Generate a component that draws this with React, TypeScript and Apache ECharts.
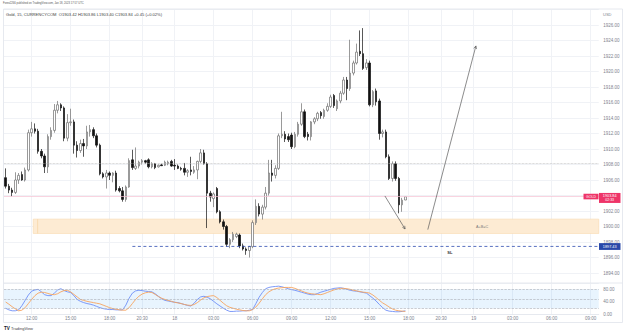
import React, { useEffect, useRef } from 'react';
import * as echarts from 'echarts';

// ---- OHLC of Gold 15m candles (Jan 17 10:00 UTC -> Jan 18 17:45 UTC) ----
const opens = [
  1906.3, 1905.2, 1904.7, 1904.4, 1906.0, 1906.7, 1906.0, 1907.3, 1912.1, 1912.6,
  1912.3, 1909.7, 1909.1, 1907.7, 1911.6, 1912.4, 1915.0, 1915.7, 1915.3, 1911.4,
  1913.4, 1913.5, 1910.5, 1909.8, 1910.7, 1910.4, 1912.2, 1912.5, 1911.7, 1910.5,
  1906.8, 1906.4, 1906.9, 1906.6, 1906.9, 1904.9, 1904.6, 1903.5, 1905.1, 1908.6,
  1907.5, 1907.8, 1908.3, 1908.5, 1908.6, 1907.7, 1908.1, 1907.7, 1907.95, 1907.9,
  1908.1, 1908.4, 1907.9, 1907.8, 1907.5, 1907.5, 1907.0, 1907.3, 1907.0, 1907.3,
  1908.4, 1909.5, 1908.1, 1904.3, 1903.6, 1904.9, 1901.9, 1900.6, 1900.0, 1897.7,
  1898.3, 1898.7, 1898.9, 1897.5, 1897.1, 1896.9, 1897.4, 1900.5, 1902.6, 1901.6,
  1902.5, 1904.3, 1906.9, 1906.6, 1907.5, 1911.7, 1911.9, 1911.6, 1911.8, 1910.3,
  1911.9, 1913.2, 1914.8, 1911.9, 1911.6, 1913.5, 1913.9, 1914.7, 1914.2, 1915.0,
  1915.5, 1916.9, 1915.2, 1916.2, 1917.2, 1918.9, 1917.8, 1919.8, 1921.1, 1922.6,
  1922.3, 1920.5, 1921.1, 1915.7, 1917.5, 1916.2, 1912.0, 1912.2, 1909.0, 1906.2,
  1908.1, 1906.2, 1902.8, 1903.42,
];
const closes = [
  1905.2, 1904.7, 1904.4, 1906.0, 1906.6, 1906.0, 1907.3, 1912.1, 1912.6, 1912.3,
  1909.7, 1909.1, 1907.7, 1911.6, 1912.4, 1915.0, 1915.7, 1915.3, 1911.4, 1913.4,
  1913.5, 1910.5, 1909.8, 1910.7, 1910.4, 1912.2, 1912.5, 1911.7, 1910.5, 1906.8,
  1906.4, 1906.9, 1906.6, 1906.9, 1904.7, 1904.6, 1903.5, 1905.1, 1908.5, 1907.6,
  1907.8, 1908.3, 1908.5, 1908.3, 1907.7, 1908.1, 1907.6, 1907.9, 1907.85, 1908.3,
  1908.3, 1907.8, 1907.8, 1907.5, 1907.4, 1907.0, 1907.2, 1907.1, 1907.3, 1908.4,
  1909.5, 1908.1, 1904.3, 1903.8, 1904.2, 1901.9, 1900.6, 1900.0, 1897.7, 1898.3,
  1899.0, 1899.0, 1897.5, 1897.1, 1896.9, 1897.4, 1900.5, 1902.6, 1901.6, 1902.5,
  1904.3, 1906.9, 1906.6, 1907.5, 1911.7, 1911.9, 1911.3, 1911.2, 1910.3, 1911.9,
  1913.2, 1914.8, 1911.6, 1911.6, 1913.5, 1913.9, 1914.6, 1914.3, 1915.0, 1915.5,
  1916.7, 1915.6, 1916.2, 1917.2, 1918.9, 1917.8, 1919.8, 1921.1, 1922.5, 1922.3,
  1920.4, 1921.1, 1915.7, 1917.4, 1916.1, 1912.0, 1912.2, 1909.0, 1906.2, 1908.1,
  1906.2, 1902.8, 1903.4, 1903.84,
];
const lows = [
  1904.9, 1904.3, 1903.9, 1904.2, 1905.5, 1905.9, 1905.8, 1907.1, 1911.6, 1912.0,
  1909.4, 1908.8, 1906.9, 1906.9, 1911.2, 1912.1, 1914.6, 1914.9, 1911.0, 1911.0,
  1913.0, 1909.4, 1908.9, 1909.5, 1909.0, 1910.0, 1911.6, 1911.4, 1910.2, 1906.6,
  1906.2, 1904.9, 1906.0, 1905.7, 1904.5, 1904.4, 1903.2, 1903.2, 1905.0, 1907.3,
  1907.3, 1907.5, 1908.0, 1908.1, 1907.5, 1907.5, 1907.4, 1907.6, 1907.8, 1907.8,
  1907.9, 1907.7, 1907.3, 1907.4, 1907.2, 1906.6, 1906.4, 1906.6, 1906.8, 1906.1,
  1908.2, 1908.0, 1899.8, 1903.2, 1902.5, 1901.7, 1900.4, 1899.6, 1897.4, 1897.2,
  1898.0, 1898.5, 1897.2, 1896.9, 1896.35, 1896.0, 1897.2, 1900.2, 1901.3, 1900.9,
  1902.2, 1904.0, 1905.8, 1906.2, 1907.3, 1911.4, 1910.9, 1910.9, 1910.0, 1910.1,
  1911.6, 1913.0, 1911.4, 1911.1, 1911.1, 1913.2, 1913.6, 1913.9, 1913.9, 1914.8,
  1915.3, 1915.3, 1914.9, 1915.9, 1917.0, 1916.3, 1917.5, 1919.5, 1920.9, 1922.0,
  1920.2, 1920.2, 1915.5, 1915.4, 1915.6, 1911.2, 1911.5, 1908.8, 1906.0, 1905.8,
  1905.9, 1901.7, 1901.9, 1903.4,
];
const highs = [
  1907.5, 1905.5, 1905.0, 1907.0, 1906.9, 1907.1, 1907.6, 1912.5, 1913.5, 1913.3,
  1912.6, 1910.0, 1909.4, 1911.9, 1912.8, 1915.8, 1916.2, 1915.9, 1915.5, 1914.5,
  1915.2, 1913.8, 1911.0, 1911.2, 1911.3, 1913.0, 1913.1, 1912.8, 1912.0, 1910.7,
  1907.0, 1907.3, 1907.1, 1907.0, 1907.2, 1905.2, 1905.1, 1905.3, 1908.8, 1909.9,
  1910.2, 1908.5, 1908.7, 1908.6, 1908.8, 1908.3, 1908.2, 1908.0, 1908.1, 1908.5,
  1908.5, 1908.6, 1908.7, 1908.0, 1907.7, 1908.2, 1907.4, 1909.0, 1907.8, 1908.5,
  1910.0, 1909.9, 1908.3, 1904.6, 1904.4, 1905.1, 1902.1, 1900.9, 1900.2, 1898.5,
  1899.3, 1899.2, 1899.1, 1897.8, 1897.3, 1897.5, 1900.8, 1903.5, 1903.0, 1902.8,
  1905.1, 1908.6, 1908.6, 1907.9, 1912.0, 1914.8, 1912.3, 1912.0, 1912.1, 1912.2,
  1913.5, 1915.9, 1915.1, 1912.2, 1913.6, 1914.1, 1914.8, 1914.9, 1915.2, 1915.9,
  1917.0, 1917.1, 1916.4, 1917.5, 1919.3, 1919.3, 1924.1, 1921.4, 1923.6, 1925.3,
  1925.6, 1921.6, 1921.4, 1917.6, 1917.8, 1916.5, 1912.5, 1912.5, 1909.3, 1908.4,
  1908.4, 1906.4, 1903.7, 1903.86,
];

// ---- Stochastic oscillator ----
const stochK = [
  20, 15, 12, 12, 15, 28, 45, 62, 74, 78,
  80, 72, 63, 60, 60, 68, 78, 82, 76, 72,
  70, 60, 48, 42, 38, 35, 33, 30, 26, 22,
  19, 17, 16, 16, 15, 15, 15, 30, 52, 68,
  75, 77, 76, 74, 73, 72, 66, 58, 50, 45,
  43, 41, 39, 38, 35, 32, 29, 27, 36, 48,
  56, 58, 55, 50, 42, 34, 27, 20, 14, 10,
  10, 11, 11, 12, 12, 14, 16, 35, 55, 70,
  82, 86, 88, 89, 90, 88, 85, 82, 79, 77,
  74, 71, 68, 65, 63, 63, 67, 71, 74, 77,
  80, 83, 84, 85, 83, 80, 77, 75, 74, 72,
  70, 68, 60, 52, 43, 32, 22, 14, 11, 10,
  9, 9, 10, 12,
];
const stochD = [
  40, 33, 25, 18, 12, 14, 22, 35, 48, 60,
  68, 71, 70, 67, 64, 63, 66, 72, 76, 77,
  72, 64, 56, 48, 45, 42, 40, 38, 36, 34,
  30, 26, 22, 19, 17, 15, 14, 14, 22, 35,
  48, 58, 65, 69, 71, 70, 64, 57, 52, 48,
  45, 42, 39, 37, 35, 32, 30, 29, 32, 38,
  46, 53, 57, 59, 60, 54, 45, 36, 28, 23,
  20, 17, 15, 13, 12, 12, 16, 24, 36, 50,
  63, 72, 78, 82, 84, 85, 86, 86, 86, 83,
  79, 75, 71, 68, 66, 65, 64, 63, 66, 70,
  74, 78, 81, 83, 83, 82, 80, 77, 75, 73,
  71, 70, 68, 62, 54, 45, 37, 31, 24, 18,
  14, 12, 11, 10,
];

// ---- time axis (15m bars, session closed 22:00-23:00 UTC) ----
const categories: string[] = [];
const addRange = (day: string, from: number, to: number) => {
  for (let m = from; m <= to; m += 15) {
    const h = Math.floor(m / 60);
    const mm = m % 60;
    categories.push(`${day} ${String(h).padStart(2, '0')}:${String(mm).padStart(2, '0')}`);
  }
};
addRange('17', 600, 1305);
addRange('17', 1380, 1425);
addRange('18', 0, 1305);
addRange('18', 1380, 1425);
addRange('19', 0, 570);

const timeLabels: Record<string, string> = {
  '17 12:00': '12:00', '17 15:00': '15:00', '17 18:00': '18:00', '17 20:30': '20:30',
  '18 00:00': '18', '18 03:00': '03:00', '18 06:00': '06:00', '18 09:00': '09:00',
  '18 12:00': '12:00', '18 15:00': '15:00', '18 18:00': '18:00', '18 20:30': '20:30',
  '19 00:00': '19', '19 03:00': '03:00', '19 06:00': '06:00', '19 09:00': '09:00',
};

// price ticks hidden behind the last-price tag on the scale
const hiddenPriceTicks = [1904];

// ---- annotation levels ----
const lastClose = 1903.84;
const stopLoss = 1897.43;
const refLevel = 1908.2;
const zoneTop = 1900.95;
const zoneBottom = 1899.1;

const FONT = 'Liberation Sans, Arial, sans-serif';
const LABEL = '#80838e';
const GRIDC = '#f0f2f6';

export default function App() {
  const ref = useRef<HTMLDivElement>(null);
  useEffect(() => {
    if (!ref.current) return;
    const chart = echarts.init(ref.current, null, { renderer: 'svg' });
    const showTick = (_i: number, v: string) => v in timeLabels;
    const gridL = 4;
    const gridR = 625 - (4 + categories.length * 3.25);

    const option: any = {
      animation: false,
      textStyle: { fontFamily: FONT },
      grid: [
        { left: gridL, right: gridR, top: 9.5, height: 273.5 },
        { left: gridL, right: gridR, top: 283, height: 31.6 },
      ],
      xAxis: [
        {
          type: 'category', gridIndex: 0, data: categories, boundaryGap: true,
          axisLine: { show: false }, axisTick: { show: false }, axisLabel: { show: false },
          splitLine: { show: true, interval: showTick, alignWithLabel: true, lineStyle: { color: GRIDC, width: 1 } },
        },
        {
          type: 'category', gridIndex: 1, data: categories, boundaryGap: true,
          axisLine: { show: true, lineStyle: { color: '#e0e3eb', width: 0.8 } },
          axisTick: { show: false },
          axisLabel: {
            show: true, interval: showTick, formatter: (v: string) => timeLabels[v] || '',
            fontSize: 4.5, color: LABEL, margin: 1.8,
          },
          splitLine: { show: true, interval: showTick, alignWithLabel: true, lineStyle: { color: GRIDC, width: 1 } },
        },
      ],
      yAxis: [
        {
          type: 'value', gridIndex: 0, position: 'right', min: 1892.71, max: 1928,
          splitNumber: 18, minInterval: 2, maxInterval: 2, scale: true,
          axisLine: { show: false }, axisTick: { show: false },
          axisLabel: {
            fontSize: 4.5, color: LABEL, margin: 4.5, showMinLabel: false, showMaxLabel: false,
            formatter: (v: number) => (hiddenPriceTicks.includes(Math.round(v)) ? '' : v.toFixed(2)),
          },
          splitLine: { show: true, lineStyle: { color: GRIDC, width: 1 } },
        },
        {
          type: 'value', gridIndex: 1, position: 'right', min: 0, max: 100, interval: 40,
          axisLine: { show: false }, axisTick: { show: false },
          axisLabel: {
            fontSize: 4.5, color: LABEL, margin: 4.5, showMaxLabel: false,
            formatter: (v: number) => v.toFixed(2),
          },
          splitLine: { show: false },
        },
      ],
      series: [
        {
          type: 'candlestick', xAxisIndex: 0, yAxisIndex: 0, z: 3,
          data: opens.map((o, i) => [o, closes[i], lows[i], highs[i]]),
          barWidth: 2,
          itemStyle: {
            color: '#ffffff', color0: '#111111',
            borderColor: '#6f6f6f', borderColor0: '#111111', borderWidth: 0.7,
          },
          markLine: {
            silent: true, symbol: 'none', label: { show: false },
            data: [
              { yAxis: refLevel, lineStyle: { color: '#b8b8b8', type: 'dotted', width: 0.7 } },
              { yAxis: lastClose, lineStyle: { color: '#f6c2d2', type: 'solid', width: 0.7 } },
            ],
          },
        },
        {
          type: 'line', xAxisIndex: 1, yAxisIndex: 1, data: stochK, symbol: 'none',
          lineStyle: { color: '#6f8ff7', width: 0.9 },
          markArea: {
            silent: true,
            itemStyle: { color: 'rgba(33,150,243,0.1)' },
            data: [[{ yAxis: 20 }, { yAxis: 80 }]],
          },
          markLine: {
            silent: true, symbol: 'none', label: { show: false },
            lineStyle: { color: '#a9acb5', type: 'dashed', width: 0.6 },
            data: [{ yAxis: 80 }, { yAxis: 50 }, { yAxis: 20 }],
          },
        },
        {
          type: 'line', xAxisIndex: 1, yAxisIndex: 1, data: stochD, symbol: 'none',
          lineStyle: { color: '#f7a45e', width: 0.9 },
        },
      ],
    };
    chart.setOption(option);

    const p = (i: number, v: number) => chart.convertToPixel({ gridIndex: 0 } as any, [i, v]) as number[];
    const x0 = p(0, 1900)[0];
    const w = p(10, 1900)[0] / 10 - x0 / 10;
    const xAt = (i: number) => x0 + i * w;
    const yAt = (v: number) => p(0, v)[1];
    const rightEdge = 4 + categories.length * 3.25;

    const arrow = (i1: number, v1: number, i2: number, v2: number) => {
      const x1 = xAt(i1), y1 = yAt(v1), x2 = xAt(i2), y2 = yAt(v2);
      const a = Math.atan2(y2 - y1, x2 - x1);
      const hl = 3.2;
      const h1 = [x2 - hl * Math.cos(a - 0.45), y2 - hl * Math.sin(a - 0.45)];
      const h2 = [x2 - hl * Math.cos(a + 0.45), y2 - hl * Math.sin(a + 0.45)];
      return [
        { type: 'line', silent: true, z: 50, shape: { x1, y1, x2, y2 }, style: { stroke: '#5a5a5a', lineWidth: 0.7 } },
        { type: 'polyline', silent: true, z: 50, shape: { points: [h1, [x2, y2], h2] }, style: { stroke: '#5a5a5a', lineWidth: 0.7, fill: 'none' } },
      ];
    };

    const yLast = yAt(lastClose);
    const ySL = yAt(stopLoss);
    const zoneLeft = xAt(8.5);
    const slStart = xAt(39);

    chart.setOption({
      graphic: [
        // frame & pane separator
        { type: 'rect', silent: true, z: 1, shape: { x: 3.5, y: 9, width: 619, height: 313.5 }, style: { fill: 'none', stroke: '#e0e3eb', lineWidth: 0.8 } },
        { type: 'line', silent: true, z: 60, shape: { x1: 3.5, y1: 283, x2: 622.5, y2: 283 }, style: { stroke: '#e0e3eb', lineWidth: 0.8 } },
        // header
        { type: 'text', silent: true, z: 60, style: { x: 3, y: 4, text: 'Forex2266 published on TradingView.com, Jan 18, 2023 17:57 UTC', fontSize: 2.7, fill: '#555', fontFamily: FONT, textVerticalAlign: 'middle' } },
        { type: 'text', silent: true, z: 60, style: { x: 6, y: 14, text: 'Gold, 15, CURRENCYCOM  O1903.42 H1903.86 L1903.40 C1903.84 +0.45 (+0.02%)', fontSize: 4.1, fill: '#444', fontFamily: FONT, textVerticalAlign: 'middle' } },
        { type: 'text', silent: true, z: 60, style: { x: 603, y: 14, text: 'USD', fontSize: 4, fill: LABEL, fontFamily: FONT, textVerticalAlign: 'middle' } },
        // demand zone (below the candles)
        { type: 'rect', silent: true, z: 1, shape: { x: zoneLeft, y: yAt(zoneTop), width: rightEdge - zoneLeft, height: yAt(zoneBottom) - yAt(zoneTop) }, style: { fill: '#fdebd3', stroke: '#f8d8ad', lineWidth: 0.6 } },
        { type: 'line', silent: true, z: 1, shape: { x1: zoneLeft + 4.4, y1: yAt(zoneTop), x2: zoneLeft + 4.4, y2: yAt(zoneBottom) }, style: { stroke: '#f6d2a2', lineWidth: 0.7 } },
        { type: 'text', silent: true, z: 50, style: { x: xAt(146.6), y: yAt(1900.0), text: 'A+B=C', fontSize: 3.8, fill: '#7a7a7a', fontFamily: FONT, textAlign: 'center', textVerticalAlign: 'middle' } },
        // stop loss line
        { type: 'line', silent: true, z: 40, shape: { x1: slStart, y1: ySL, x2: rightEdge, y2: ySL }, style: { stroke: '#2f4cb0', lineWidth: 0.8, lineDash: [3, 2.5] } },
        { type: 'text', silent: true, z: 50, style: { x: xAt(136.7), y: yAt(1896.6), text: 'SL', fontSize: 4, fontWeight: 'bold', fill: '#333', fontFamily: FONT, textAlign: 'center', textVerticalAlign: 'middle' } },
        // arrows
        ...arrow(116.7, 1903.94, 122.9, 1899.68),
        ...arrow(129.9, 1899.6, 144.7, 1923.3),
        // price labels on the axis
        { type: 'rect', silent: true, z: 70, shape: { x: 583.5, y: yLast - 3, width: 15, height: 5.6 }, style: { fill: '#ee3468' } },
        { type: 'text', silent: true, z: 71, style: { x: 591, y: yLast - 0.2, text: 'GOLD', fontSize: 3.5, fill: '#fff', fontFamily: FONT, textAlign: 'center', textVerticalAlign: 'middle' } },
        { type: 'rect', silent: true, z: 70, shape: { x: 599, y: yLast - 3.8, width: 21.5, height: 10 }, style: { fill: '#ee3468' } },
        { type: 'text', silent: true, z: 71, style: { x: 609.7, y: yLast - 0.9, text: lastClose.toFixed(2), fontSize: 3.8, fill: '#fff', fontFamily: FONT, textAlign: 'center', textVerticalAlign: 'middle' } },
        { type: 'text', silent: true, z: 71, style: { x: 609.7, y: yLast + 3.5, text: '02:33', fontSize: 3.5, fill: '#fff', fontFamily: FONT, textAlign: 'center', textVerticalAlign: 'middle' } },
        { type: 'rect', silent: true, z: 70, shape: { x: 599, y: ySL - 3.3, width: 21.5, height: 6.8 }, style: { fill: '#2948a9' } },
        { type: 'text', silent: true, z: 71, style: { x: 609.7, y: ySL + 0.1, text: stopLoss.toFixed(2), fontSize: 3.8, fill: '#fff', fontFamily: FONT, textAlign: 'center', textVerticalAlign: 'middle' } },
        // logo
        { type: 'text', silent: true, z: 60, style: { x: 4, y: 328, text: 'TV', fontSize: 4.6, fontWeight: 'bold', fill: '#131722', fontFamily: FONT, textVerticalAlign: 'middle' } },
        { type: 'text', silent: true, z: 60, style: { x: 11, y: 328, text: 'TradingView', fontSize: 4, fill: '#444', fontFamily: FONT, textVerticalAlign: 'middle' } },
      ],
    });

    return () => chart.dispose();
  }, []);

  return (
    <div
      ref={ref}
      style={{ position: 'fixed', left: 0, top: 0, width: 625, height: 336, background: '#ffffff' }}
    />
  );
}
